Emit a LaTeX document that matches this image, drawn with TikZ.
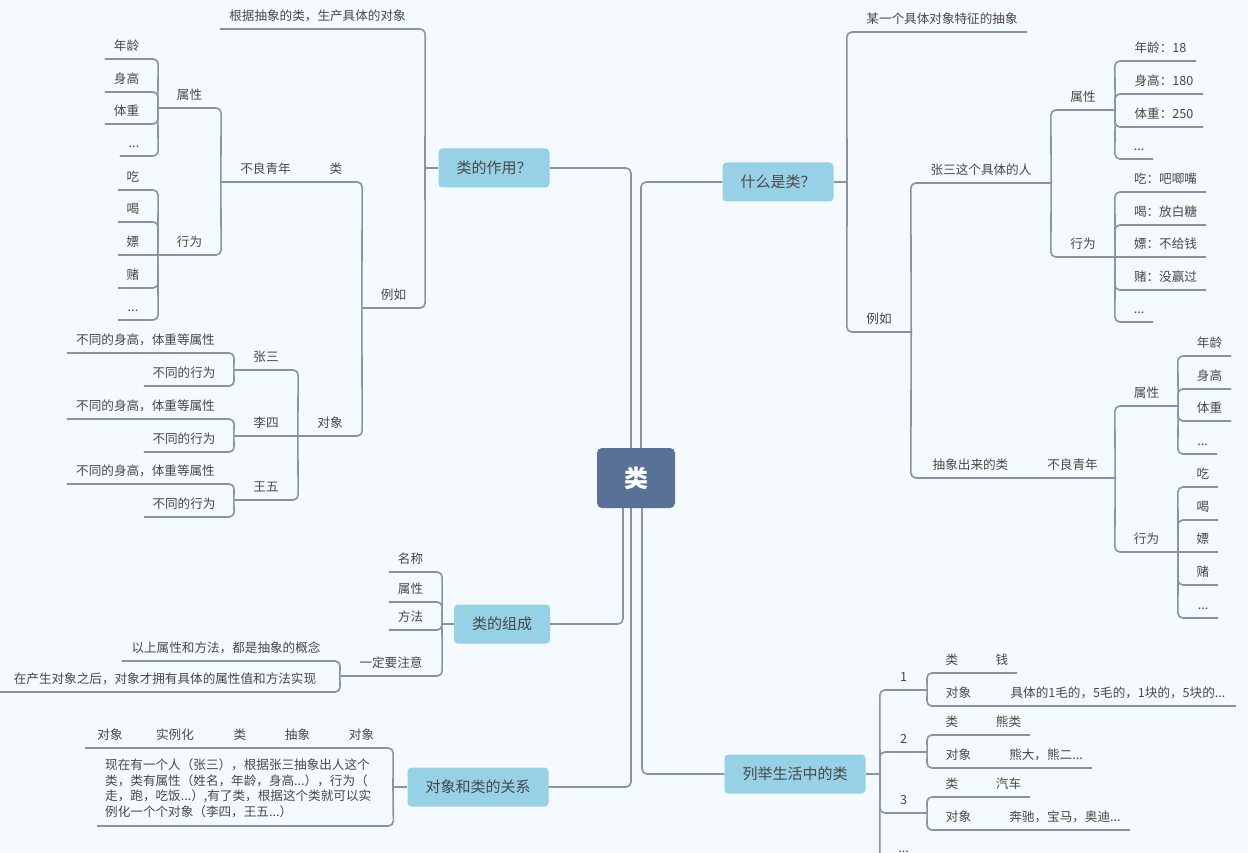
\documentclass[tikz,border=0pt]{standalone}
\usepackage{fontspec}
\newfontfamily\cjk{Noto Sans CJK SC}
\definecolor{bgc}{RGB}{245,250,254}
\definecolor{linec}{RGB}{136,146,168}
\definecolor{txtc}{RGB}{72,72,72}
\definecolor{topicc}{RGB}{150,209,230}
\definecolor{rootc}{RGB}{90,113,151}
\tikzset{
  br/.style={linec, line width=1.6pt, rounded corners=5pt},
  item/.style={anchor=south, inner xsep=0pt, inner ysep=5.7pt, text height=9pt, text depth=2.5pt,
    text=txtc, font=\cjk\fontsize{12.6}{15}\selectfont},
  para/.style={anchor=south west, inner xsep=8pt, inner ysep=8pt, text width=280pt, align=left,
    minimum width=296pt, text=txtc, font=\cjk\fontsize{12.6}{15.7}\selectfont},
  topic/.style={fill=topicc, rounded corners=4pt, minimum height=39pt, inner xsep=18pt,
    text=txtc, font=\cjk\fontsize{15}{18}\selectfont},
  rootbox/.style={fill=rootc, rounded corners=5pt, minimum width=78pt, minimum height=60pt,
    text=white, font=\cjk\bfseries\fontsize{24}{28}\selectfont}
}
% text over an underline from #2 to #3 at height #4
\newcommand\tnode[5]{\node[item, minimum width={#3-#2}] (#1) at ({(#2+#3)/2},#4) {#5};}
\newcommand\lleaf[5]{\tnode{#1}{#2}{#3}{#4}{#5\kern10pt}}
\newcommand\rleaf[5]{\tnode{#1}{#2}{#3}{#4}{\kern10pt#5}}
\newcommand\ljoin[2]{\draw[br] (#1.south west) -- (#1.south east) -- (#2);}
\newcommand\rjoin[2]{\draw[br] (#1.south east) -- (#1.south west) -- (#2);}
\newcommand\uline[1]{\draw[br] (#1.south west) -- (#1.south east);}
\begin{document}
\begin{tikzpicture}[x=1pt,y=-1pt]
\fill[bgc] (0,0) rectangle (1248,853);
\useasboundingbox (0,0) rectangle (1248,853);
\begin{scope}
\clip (0,0) rectangle (1248,853);

\node[rootbox] (root) at (636,478) {类};
\node[topic] (zy) at (494,168) {类的作用？};
\node[topic] (sm) at (778,182) {什么是类？};
\node[topic] (zc) at (502,624) {类的组成};
\node[topic] (gx) at (478,787) {对象和类的关系};
\node[topic] (lj) at (795,774) {列举生活中的类};
\draw[br] (zy.east) -| ([xshift=-5pt]root.north);
\draw[br] (sm.west) -| ([xshift=5pt]root.north);
\draw[br] (zc.east) -| ([xshift=-13pt]root.south);
\draw[br] (gx.east) -| ([xshift=-5pt]root.south);
\draw[br] (lj.west) -| ([xshift=6pt]root.south);
\coordinate (zyh) at (425,168);
\coordinate (smh) at (847,182);
\coordinate (zch) at (442,624);
\coordinate (gxh) at (393,787);
\coordinate (ljh) at (880,774);
\draw[br] (zyh) -- (zy.west); \draw[br] (smh) -- (sm.east);
\draw[br] (zch) -- (zc.west); \draw[br] (gxh) -- (gx.west);
\draw[br] (ljh) -- (lj.east);

% 类的作用
\lleaf{zy1}{220}{425}{29}{根据抽象的类，生产具体的对象}
\tnode{zyeg}{362}{425}{308}{例如}
\tnode{zycls}{310}{362}{182}{类}
\tnode{zybl}{221}{310}{182}{不良青年}
\tnode{zyattr}{158}{221}{108}{属性}
\lleaf{zya1}{105}{158}{59}{年龄}
\lleaf{zya2}{105}{158}{92}{身高}
\lleaf{zya3}{105}{158}{124}{体重}
\lleaf{zya4}{120}{158}{156}{...}
\tnode{zyact}{158}{221}{255}{行为}
\lleaf{zyb1}{118}{158}{190}{吃}
\lleaf{zyb2}{118}{158}{222}{喝}
\lleaf{zyb3}{118}{158}{255}{嫖}
\lleaf{zyb4}{118}{158}{288}{赌}
\lleaf{zyb5}{118}{158}{320}{...}
\tnode{zyobj}{298}{362}{436}{对象}
\tnode{zs}{234}{298}{370}{张三}
\lleaf{zs1}{67}{234}{353}{不同的身高，体重等属性}
\lleaf{zs2}{144}{234}{386}{不同的行为}
\tnode{ls}{234}{298}{436}{李四}
\lleaf{ls1}{67}{234}{419}{不同的身高，体重等属性}
\lleaf{ls2}{144}{234}{452}{不同的行为}
\tnode{ww}{234}{298}{500}{王五}
\lleaf{ww1}{67}{234}{484}{不同的身高，体重等属性}
\lleaf{ww2}{144}{234}{517}{不同的行为}
\ljoin{zy1}{zyh} \ljoin{zyeg}{zyh}
\ljoin{zycls}{zyeg.south west} \ljoin{zyobj}{zyeg.south west}
\uline{zybl}
\ljoin{zyattr}{zybl.south west} \ljoin{zyact}{zybl.south west}
\foreach \n in {zya1,zya2,zya3,zya4} {\ljoin{\n}{zyattr.south west}}
\foreach \n in {zyb1,zyb2,zyb4,zyb5} {\ljoin{\n}{zyact.south west}}
\uline{zyb3}
\ljoin{zs}{zyobj.south west} \uline{ls} \ljoin{ww}{zyobj.south west}
\foreach \n in {zs,ls,ww} {\ljoin{\n1}{\n.south west} \ljoin{\n2}{\n.south west}}

% 什么是类
\rleaf{sm1}{847}{1027}{32}{某一个具体对象特征的抽象}
\tnode{smeg}{847}{911}{332}{例如}
\tnode{zsr}{911}{1051}{183}{张三这个具体的人}
\tnode{zsattr}{1051}{1115}{110}{属性}
\rleaf{zsa1}{1115}{1196}{61}{年龄：18}
\rleaf{zsa2}{1115}{1203}{94}{身高：180}
\rleaf{zsa3}{1115}{1203}{127}{体重：250}
\rleaf{zsa4}{1115}{1153}{159}{...}
\tnode{zsact}{1051}{1115}{257}{行为}
\rleaf{zsb1}{1115}{1206}{192}{吃：吧唧嘴}
\rleaf{zsb2}{1115}{1206}{225}{喝：放白糖}
\rleaf{zsb3}{1115}{1206}{257}{嫖：不给钱}
\rleaf{zsb4}{1115}{1206}{290}{赌：没赢过}
\rleaf{zsb5}{1115}{1153}{322}{...}
\tnode{abs}{911}{1030}{478}{抽象出来的类}
\tnode{absbl}{1030}{1115}{478}{不良青年}
\tnode{absattr}{1115}{1178}{406}{属性}
\rleaf{absa1}{1178}{1231}{356}{年龄}
\rleaf{absa2}{1178}{1231}{389}{身高}
\rleaf{absa3}{1178}{1231}{421}{体重}
\rleaf{absa4}{1178}{1217}{454}{...}
\tnode{absact}{1115}{1178}{552}{行为}
\rleaf{absb1}{1178}{1218}{487}{吃}
\rleaf{absb2}{1178}{1218}{520}{喝}
\rleaf{absb3}{1178}{1218}{552}{嫖}
\rleaf{absb4}{1178}{1218}{585}{赌}
\rleaf{absb5}{1178}{1218}{618}{...}
\rjoin{sm1}{smh} \rjoin{smeg}{smh}
\rjoin{zsr}{smeg.south east} \rjoin{abs}{smeg.south east}
\rjoin{zsattr}{zsr.south east} \rjoin{zsact}{zsr.south east}
\foreach \n in {zsa1,zsa2,zsa3,zsa4} {\rjoin{\n}{zsattr.south east}}
\foreach \n in {zsb1,zsb2,zsb4,zsb5} {\rjoin{\n}{zsact.south east}}
\uline{zsb3}
\uline{absbl}
\rjoin{absattr}{absbl.south east} \rjoin{absact}{absbl.south east}
\foreach \n in {absa1,absa2,absa3,absa4} {\rjoin{\n}{absattr.south east}}
\foreach \n in {absb1,absb2,absb4,absb5} {\rjoin{\n}{absact.south east}}
\uline{absb3}

% 类的组成
\lleaf{zc1}{389}{442}{572}{名称}
\lleaf{zc2}{389}{442}{602}{属性}
\lleaf{zc3}{389}{442}{630}{方法}
\tnode{zc4}{340}{442}{676}{一定要注意}
\lleaf{zc41}{122}{340}{661}{以上属性和方法，都是抽象的概念}
\lleaf{zc42}{0}{340}{692}{在产生对象之后，对象才拥有具体的属性值和方法实现}
\foreach \n in {zc1,zc2,zc3,zc4} {\ljoin{\n}{zch}}
\ljoin{zc41}{zc4.south west} \ljoin{zc42}{zc4.south west}

% 对象和类的关系
\tnode{gxo1}{330}{393}{748}{对象}
\tnode{gxab}{265}{330}{748}{抽象}
\tnode{gxcl}{215}{265}{748}{类}
\tnode{gxin}{135}{215}{748}{实例化}
\tnode{gxo2}{85}{135}{748}{对象}
\node[para] (gxp) at (97,826) {现在有一个人（张三），根据张三抽象出人这个\\类，类有属性（姓名，年龄，身高...），行为（\\走，跑，吃饭...）,有了类，根据这个类就可以实\\例化一个个对象（李四，王五...）};
\ljoin{gxo1}{gxh} \ljoin{gxp}{gxh}
\foreach \n in {gxab,gxcl,gxin,gxo2} {\uline{\n}}

% 列举生活中的类
\tnode{lj1}{880}{927}{690}{1}
\tnode{lj1c}{927}{977}{673}{类}
\rleaf{lj1cv}{977}{1017}{673}{钱}
\tnode{lj1o}{927}{990}{706}{对象}
\rleaf{lj1ov}{990}{1236}{706}{具体的1毛的，5毛的，1块的，5块的...}
\tnode{lj2}{880}{927}{752}{2}
\tnode{lj2c}{927}{977}{735}{类}
\rleaf{lj2cv}{977}{1030}{735}{熊类}
\tnode{lj2o}{927}{990}{768}{对象}
\rleaf{lj2ov}{990}{1092}{768}{熊大，熊二...}
\tnode{lj3}{880}{927}{813}{3}
\tnode{lj3c}{927}{977}{797}{类}
\rleaf{lj3cv}{977}{1030}{797}{汽车}
\tnode{lj3o}{927}{990}{830}{对象}
\rleaf{lj3ov}{990}{1130}{830}{奔驰，宝马，奥迪...}
\tnode{ljd}{880}{927}{861}{...}
\foreach \n in {lj1,lj2,lj3,ljd} {\rjoin{\n}{ljh}}
\foreach \n in {lj1,lj2,lj3} {\rjoin{\n c}{\n.south east} \rjoin{\n o}{\n.south east}
  \uline{\n cv} \uline{\n ov}}
\end{scope}
\end{tikzpicture}
\end{document}
